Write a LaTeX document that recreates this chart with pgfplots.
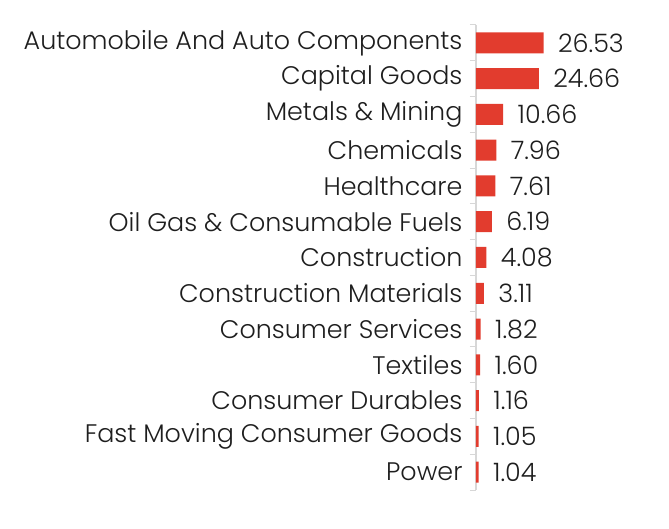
\documentclass[border=0pt]{standalone}
\usepackage{pgfplots}
\pgfplotsset{compat=1.18}
\usepackage{fontspec}
\setmainfont{Poppins}[UprightFont={* Light}]
\definecolor{barred}{RGB}{226,60,46}
\definecolor{txt}{RGB}{30,30,30}
\definecolor{axgray}{RGB}{215,215,215}
\newcommand{\lblfont}{\fontsize{25.4}{25.4}\selectfont}
\begin{document}
\begin{tikzpicture}
\begin{axis}[
 scale only axis, width=153pt, height=465pt,
 xmin=0, xmax=60, ymin=0.5, ymax=13.5, y dir=reverse,
 xbar, bar width=21pt, bar shift=0pt,
 axis x line=none, axis y line*=left,
 y axis line style={axgray, line width=1.5pt},
 ytick={1,...,13},
 yticklabels={Automobile And Auto Components, Capital Goods, Metals \& Mining, Chemicals, Healthcare, Oil Gas \& Consumable Fuels, Construction, Construction Materials, Consumer Services, Textiles, Consumer Durables, Fast Moving Consumer Goods, Power},
 major tick length=0pt,
 minor ytick={0.5,1.5,...,13.5}, minor tick length=6pt, tick align=outside,
 minor tick style={axgray, line width=1pt},
 yticklabel style={font=\lblfont, text=txt, xshift=-10pt},
 nodes near coords, nodes near coords align=horizontal, point meta=explicit symbolic,
 every node near coord/.append style={font=\lblfont, text=txt, anchor=west, xshift=11pt},
 clip=false,
]
\addplot[fill=barred, draw=none] coordinates {
(26.53,1) [26.53]
(24.66,2) [24.66]
(10.66,3) [10.66]
(7.96,4) [7.96]
(7.61,5) [7.61]
(6.19,6) [6.19]
(4.08,7) [4.08]
(3.11,8) [3.11]
(1.82,9) [1.82]
(1.60,10) [1.60]
(1.16,11) [1.16]
(1.05,12) [1.05]
(1.04,13) [1.04]
};
\end{axis}
\path ([xshift=-476pt,yshift=25pt]current axis.north west) rectangle ([xshift=193pt,yshift=-39pt]current axis.south west);
\end{tikzpicture}
\end{document}
